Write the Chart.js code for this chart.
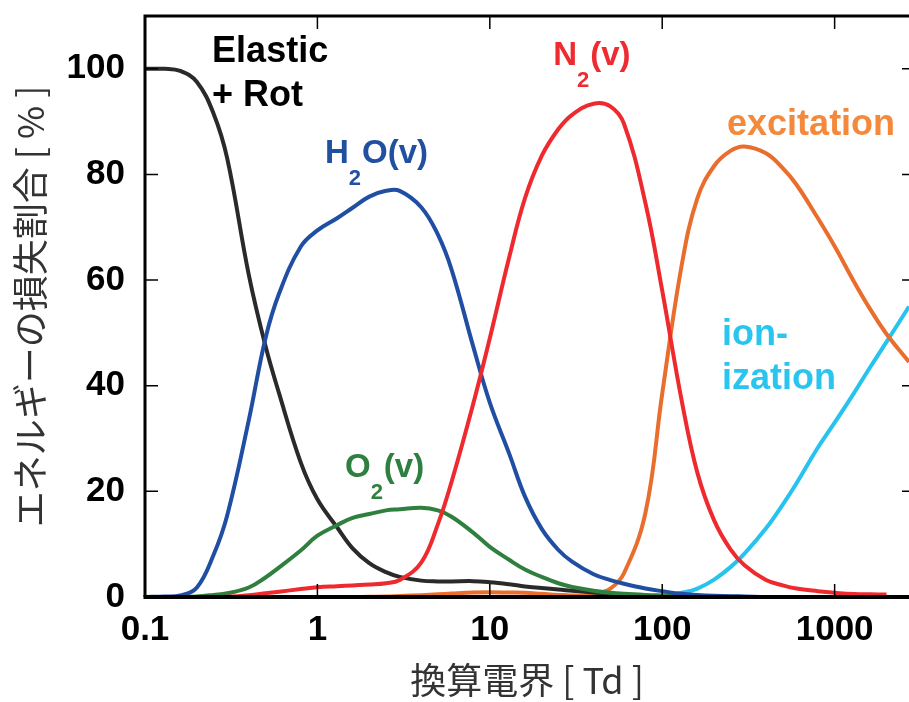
<!DOCTYPE html>
<html>
<head>
<meta charset="utf-8">
<script src="https://cdn.jsdelivr.net/npm/chart.js@4/dist/chart.umd.min.js"></script>
<style>
  body { margin: 0; background: #fff; }
</style>
</head>
<body>
<canvas id="lossChart" width="909" height="702"></canvas>
<script>
// reduced field E/N [Td]
var fields = [0.1, 0.13, 0.16, 0.2, 0.25, 0.3, 0.4, 0.5, 0.6, 0.8,
  1, 1.3, 1.6, 2, 2.5, 3, 4, 5, 6, 8,
  10, 13, 16, 20, 25, 30, 40, 50, 60, 80,
  100, 130, 160, 200, 250, 300, 400, 500, 600, 800,
  1000, 1300, 1600, 2000, 2700];

// fraction of energy loss [%]
var elastic = [100, 100, 99.6, 97.5, 91.5, 83, 61, 47.5, 38.5, 25.5,
  18.5, 13.2, 9.2, 6.4, 4.7, 3.8, 3.1, 2.95, 2.95, 3.0,
  2.8, 2.4, 2.0, 1.7, 1.4, 1.2, 0.85, 0.6, 0.4, 0.2,
  0.1, 0, 0, 0, 0, 0, 0, 0, 0, 0,
  0, 0, 0, 0, 0];
var h2o = [0, 0.1, 0.3, 1.8, 8, 15.5, 33.5, 49, 57.5, 66.3,
  69.4, 71.7, 73.7, 75.8, 76.9, 76.9, 73.8, 68.6, 62, 47.5,
  36.8, 27, 19, 12.9, 8.9, 6.7, 4.3, 3.2, 2.5, 1.6,
  1.1, 0.6, 0.4, 0.25, 0.15, 0.1, 0, 0, 0, 0,
  0, 0, 0, 0, 0];
var o2 = [0, 0, 0, 0.1, 0.4, 0.7, 1.8, 3.7, 5.6, 8.8,
  11.6, 13.6, 15, 15.7, 16.4, 16.6, 16.9, 16.4, 15.2, 12.2,
  9.5, 7.0, 5.2, 3.8, 2.6, 1.9, 1.2, 0.8, 0.6, 0.4,
  0.3, 0.2, 0.15, 0.1, 0.05, 0, 0, 0, 0, 0,
  0, 0, 0, 0, 0];
var n2 = [0, 0, 0, 0, 0, 0.05, 0.35, 0.7, 1.0, 1.5,
  1.85, 2.05, 2.2, 2.35, 2.6, 3.2, 6.5, 13.8, 21.8, 36.5,
  49, 64.5, 75.5, 83.5, 88.6, 91.3, 93.4, 92.9, 89.6, 74.5,
  58, 37, 23.5, 14.5, 8.9, 6.0, 3.2, 2.2, 1.6, 1.1,
  0.8, 0.55, 0.5, 0.45, null];
var excitation = [0, 0, 0, 0, 0, 0, 0, 0, 0, 0,
  0, 0, 0, 0.05, 0.1, 0.2, 0.35, 0.5, 0.65, 0.85,
  0.9, 0.85, 0.8, 0.6, 0.4, 0.3, 0.5, 1.6, 4.5, 16,
  38.5, 63, 75.5, 81.6, 84.5, 85.3, 84, 81.2, 78.1, 71.7,
  66.4, 59.6, 54.6, 49.8, 44.5];
var ionization = [0, 0, 0, 0, 0, 0, 0, 0, 0, 0,
  0, 0, 0, 0, 0, 0, 0, 0, 0, 0,
  0, 0, 0, 0, 0, 0, 0, 0, 0, 0.05,
  0.2, 0.8, 1.6, 3.3, 5.7, 8.2, 13, 17.5, 21.5, 28.3,
  33, 38.7, 43.4, 48.3, 55];

var xTicks = [0.1, 1, 10, 100, 1000];
var yTicks = [0, 20, 40, 60, 80, 100];

// in-plot labels (data coordinates), segments: [text, isSubscript]
var labelParts = [
  [['Elastic', 0]],
  [['+ Rot', 0]],
  [['H', 0], ['2', 1], ['O(v)', 0]],
  [['N', 0], ['2', 1], ['(v)', 0]],
  [['O', 0], ['2', 1], ['(v)', 0]],
  [['excitation', 0]],
  [['ion-', 0]],
  [['ization', 0]]
];
var labelX = [0.245, 0.245, 1.107, 23.3, 1.445, 237.7, 222, 222];
var labelY = [101.3, 93.0, 82.2, 100.7, 22.7, 87.5, 47.7, 39.4];
var labelSize = [36, 36, 33, 33, 33, 36, 36, 36];
var labelColor = ['#000000', '#000000', '#2150a1', '#ee2b30', '#2f8040', '#f5893b', '#2ac5ef', '#2ac5ef'];

function pts(vals) {
  return fields.map(function (f, i) { return { x: f, y: vals[i] }; });
}

var tickFont = { family: '"Liberation Sans", Arial, sans-serif', size: 35, weight: 'bold' };
var titleFont = { family: '"Noto Sans CJK JP", sans-serif', size: 36, weight: 'normal' };

var framePlugin = {
  id: 'frame',
  afterDatasetsDraw: function (chart) {
    var ctx = chart.ctx, a = chart.chartArea;
    var xs = chart.scales.x, ys = chart.scales.y;
    ctx.save();
    ctx.strokeStyle = '#000';
    // ticks pointing inward
    ctx.lineWidth = 1.5;
    ctx.beginPath();
    xTicks.forEach(function (v) {
      var px = xs.getPixelForValue(v);
      ctx.moveTo(px, a.bottom); ctx.lineTo(px, a.bottom - 13);
      ctx.moveTo(px, a.top); ctx.lineTo(px, a.top + 13);
    });
    yTicks.forEach(function (v) {
      var py = ys.getPixelForValue(v);
      ctx.moveTo(a.left, py); ctx.lineTo(a.left + 13, py);
      ctx.moveTo(a.right, py); ctx.lineTo(a.right - 7, py);
    });
    ctx.stroke();
    // frame: left, top, bottom
    ctx.lineWidth = 3;
    ctx.beginPath();
    ctx.moveTo(a.right + 2, a.top);
    ctx.lineTo(a.left, a.top);
    ctx.lineTo(a.left, a.bottom);
    ctx.stroke();
    ctx.lineWidth = 4;
    ctx.beginPath();
    ctx.moveTo(a.left - 1.5, a.bottom);
    ctx.lineTo(a.right, a.bottom);
    ctx.stroke();

    // text labels
    ctx.textBaseline = 'alphabetic';
    ctx.textAlign = 'left';
    labelParts.forEach(function (parts, i) {
      var x = xs.getPixelForValue(labelX[i]);
      var y = ys.getPixelForValue(labelY[i]);
      ctx.fillStyle = labelColor[i];
      parts.forEach(function (p) {
        var sz = p[1] ? Math.round(labelSize[i] * 0.66) : labelSize[i];
        ctx.font = 'bold ' + sz + 'px "Liberation Sans", Arial, sans-serif';
        ctx.fillText(p[0], x, p[1] ? y + 22 : y);
        x += ctx.measureText(p[0]).width + (p[1] ? 1 : 0);
      });
    });
    ctx.restore();
  }
};

function series(label, vals, color) {
  return {
    label: label,
    data: pts(vals),
    borderColor: color,
    backgroundColor: color,
    borderWidth: 4,
    pointRadius: 0,
    tension: 0.4,
    clip: false,
    spanGaps: false
  };
}

new Chart(document.getElementById('lossChart'), {
  type: 'line',
  data: {
    datasets: [
      series('N2(v)', n2, '#ee2a2e'),
      series('H2O(v)', h2o, '#1f4ea3'),
      series('O2(v)', o2, '#2f7f3f'),
      series('Elastic + Rot', elastic, '#2a2a2a'),
      series('excitation', excitation, '#e96d2c'),
      series('ionization', ionization, '#27c3ef')
    ]
  },
  options: {
    responsive: false,
    animation: false,
    layout: { padding: { top: 16, right: 0, left: 0, bottom: 0 } },
    plugins: { legend: { display: false }, tooltip: { enabled: false } },
    scales: {
      x: {
        type: 'logarithmic',
        min: 0.1,
        max: 2700,
        afterBuildTicks: function (axis) {
          axis.ticks = xTicks.map(function (v) { return { value: v }; });
        },
        afterFit: function (s) { s.height = 105; s.paddingLeft = 0; s.paddingRight = 0; },
        grid: { display: false, drawTicks: false },
        border: { display: false },
        ticks: {
          autoSkip: false, maxRotation: 0, padding: 12, color: '#000', font: tickFont,
          callback: function (v) { return String(v); }
        },
        title: { display: true, text: '換算電界 [ Td ]', color: '#333', font: titleFont, padding: { top: 0, bottom: 0 } }
      },
      y: {
        min: 0,
        max: 110,
        afterBuildTicks: function (axis) {
          axis.ticks = yTicks.map(function (v) { return { value: v }; });
        },
        afterFit: function (s) { s.width = 145; s.paddingTop = 0; s.paddingBottom = 0; },
        grid: { display: false, drawTicks: false },
        border: { display: false },
        ticks: { padding: 20, color: '#000', font: tickFont },
        title: { display: true, text: 'エネルギーの損失割合 [ % ]', color: '#333', font: titleFont, padding: { top: 9, bottom: 0 } }
      }
    }
  },
  plugins: [framePlugin]
});
</script>
</body>
</html>
